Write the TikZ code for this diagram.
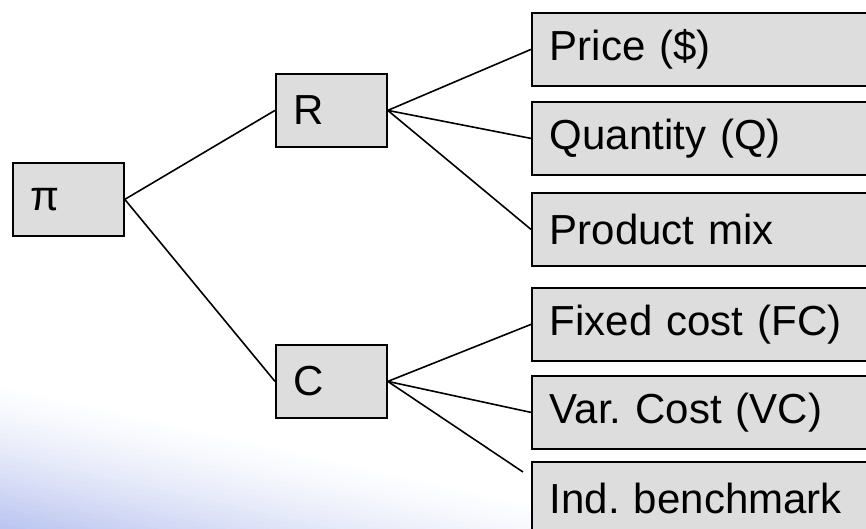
\documentclass[tikz,border=0pt]{standalone}
\usepackage{fontspec}
\setmainfont{Liberation Sans}
\frenchspacing
\definecolor{boxgray}{RGB}{221,221,221}
\definecolor{swooshdark}{RGB}{188,198,240}
\tikzset{
  box/.style={draw=black, line width=1.8pt, fill=boxgray,
    font=\fontsize{42}{50}\selectfont, inner xsep=18pt, inner ysep=0pt,
    anchor=north west, align=left, minimum height=73pt},
  smallbox/.style={box, text width=75pt},
  bigbox/.style={box, text width=330pt},
  link/.style={draw=black, line width=1.6pt}
}
\begin{document}
\begin{tikzpicture}[x=1pt, y=-1pt]
\useasboundingbox (0,0) rectangle (866,529);
\clip (0,0) rectangle (866,529);
\fill[white] (0,0) rectangle (866,529);
% decorative background swoosh: strips parallel to its upper edge
\foreach \i in {0,...,27}{
  \pgfmathsetmacro\p{min(100,4+96*(\i/27)^1.3)}
  \fill[swooshdark!\p!white]
    (0,{388+5*\i}) -- (866,{583+5*\i}) -- (866,800) -- (0,800) -- cycle;
}
% nodes
\node[smallbox] (pi) at (12,162) {π};
\node[smallbox] (R) at (275,73) {R};
\node[smallbox] (C) at (275,344) {C};
\node[bigbox] (price) at (531,12) {Price (\$)};
\node[bigbox] (qty) at (531,101) {Quantity (Q)};
\node[bigbox] (mix) at (531,192) {Product mix};
\node[bigbox] (fc) at (531,287) {Fixed cost (FC)};
\node[bigbox] (vc) at (531,375) {Var. Cost (VC)};
\node[bigbox] (ind) at (531,461) {Ind. benchmark};
\coordinate (indend) at (523,472);
% connectors
\draw[link] (pi.east) -- (R.west);
\draw[link] (pi.east) -- (C.west);
\draw[link] (R.east) -- (price.west);
\draw[link] (R.east) -- (qty.west);
\draw[link] (R.east) -- (mix.west);
\draw[link] (C.east) -- (fc.west);
\draw[link] (C.east) -- (vc.west);
\draw[link] (C.east) -- (indend);
\end{tikzpicture}
\end{document}
